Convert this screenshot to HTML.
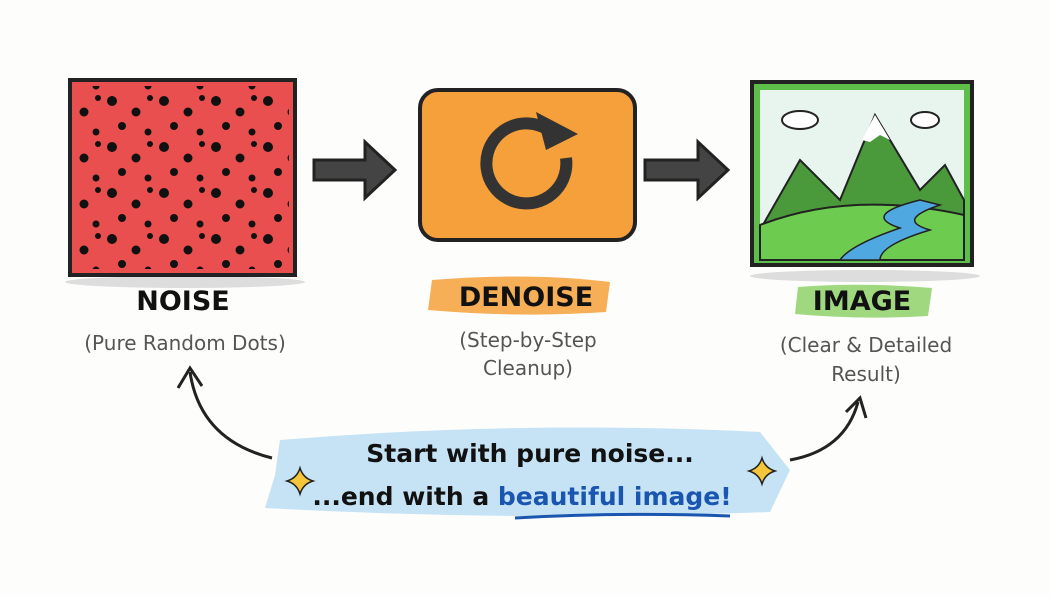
<!DOCTYPE html>
<html><head><meta charset="utf-8"><style>
body{margin:0;width:1050px;height:591px;background:#fdfdfc;overflow:hidden;font-family:"DejaVu Sans","Liberation Sans",sans-serif;}
</style></head><body>
<svg width="1050" height="591" viewBox="0 0 1050 591" xmlns="http://www.w3.org/2000/svg">
<defs>
<pattern id="dots" width="52" height="46" patternUnits="userSpaceOnUse">
<circle cx="8" cy="9" r="5" fill="#111"/><circle cx="32" cy="20" r="4.5" fill="#111"/><circle cx="18" cy="34" r="4" fill="#111"/><circle cx="44" cy="40" r="3.5" fill="#111"/><circle cx="46" cy="6" r="3" fill="#111"/>
</pattern>
</defs>
<ellipse cx="185" cy="282" rx="120" ry="6" fill="#ddd"/>
<ellipse cx="865" cy="276" rx="115" ry="6" fill="#ddd"/>
<rect x="70" y="80" width="225" height="195" fill="#ea4f4f" stroke="#222" stroke-width="4"/>
<rect x="76" y="86" width="213" height="183" fill="url(#dots)"/>
<path d="M314 160 L365 160 L365 142 L395 170 L365 198 L365 180 L314 180 Z" fill="#444" stroke="#222" stroke-width="3"/>
<path d="M645 160 L698 160 L698 142 L728 170 L698 198 L698 180 L645 180 Z" fill="#444" stroke="#222" stroke-width="3"/>
<rect x="420" y="90" width="215" height="150" rx="18" fill="#f5a03a" stroke="#222" stroke-width="4"/>
<path d="M545 128 A40 40 0 1 0 566 158" fill="none" stroke="#333" stroke-width="12"/>
<path d="M536 112 L578 134 L546 150 Z" fill="#333"/>
<rect x="752" y="82" width="220" height="183" fill="#5dbf4a" stroke="#222" stroke-width="4"/>
<rect x="760" y="90" width="204" height="170" fill="#e8f4ee"/>
<path d="M760 230 L800 160 L840 200 L875 115 L920 190 L945 165 L964 200 L964 260 L760 260 Z" fill="#4a9a3c" stroke="#222" stroke-width="2"/>
<path d="M862 140 L875 115 L890 140 L880 135 L870 142 Z" fill="#fff"/>
<path d="M760 225 Q850 190 964 215 L964 260 L760 260 Z" fill="#6dcc4f" stroke="#222" stroke-width="2"/>
<path d="M920 200 Q860 215 900 228 Q850 245 840 260 L880 260 Q880 245 930 230 Q895 220 940 205 Z" fill="#4fa8e0" stroke="#222" stroke-width="1.5"/>
<ellipse cx="800" cy="120" rx="18" ry="9" fill="#fff" stroke="#222" stroke-width="2"/>
<ellipse cx="925" cy="120" rx="14" ry="8" fill="#fff" stroke="#222" stroke-width="2"/>
<path d="M432 280 Q530 272 610 282 L606 312 Q520 318 428 310 Z" fill="#f5a03a" opacity="0.85"/>
<path d="M798 287 Q860 282 932 288 L928 316 Q860 320 795 314 Z" fill="#8fd16a" opacity="0.85"/>
<g font-weight="bold" font-size="27" fill="#111" text-anchor="middle">
<text x="183" y="310">NOISE</text>
<text x="526" y="306">DENOISE</text>
<text x="862" y="310">IMAGE</text>
</g>
<g font-size="20" fill="#555" text-anchor="middle">
<text x="185" y="350">(Pure Random Dots)</text>
<text x="528" y="347">(Step-by-Step</text>
<text x="528" y="375">Cleanup)</text>
<text x="866" y="352">(Clear &amp; Detailed</text>
<text x="866" y="381">Result)</text>
</g>
<path d="M280 440 Q520 420 760 432 L790 470 L770 512 Q520 522 265 508 L275 475 Z" fill="#bfe0f3" opacity="0.9"/>
<g font-size="25" font-weight="bold" fill="#111" text-anchor="middle">
<text x="530" y="462">Start with pure noise...</text>
<text x="522" y="505">...end with a <tspan fill="#1a56b0">beautiful image!</tspan></text>
</g>
<path d="M515 518 Q620 512 730 516" stroke="#1a56b0" stroke-width="3" fill="none"/>
<path d="M272 458 Q200 440 190 372" stroke="#222" stroke-width="3" fill="none"/>
<path d="M178 388 L190 368 L202 386" stroke="#222" stroke-width="3" fill="none"/>
<path d="M790 460 Q845 450 858 402" stroke="#222" stroke-width="3" fill="none"/>
<path d="M846 412 L860 398 L866 418" stroke="#222" stroke-width="3" fill="none"/>
<path d="M300 468 Q303 478 313 481 Q303 484 300 494 Q297 484 287 481 Q297 478 300 468 Z" fill="#f5c53a" stroke="#222" stroke-width="1.5"/>
<path d="M762 458 Q765 468 775 471 Q765 474 762 484 Q759 474 749 471 Q759 468 762 458 Z" fill="#f5c53a" stroke="#222" stroke-width="1.5"/>
</svg>
</body></html>
